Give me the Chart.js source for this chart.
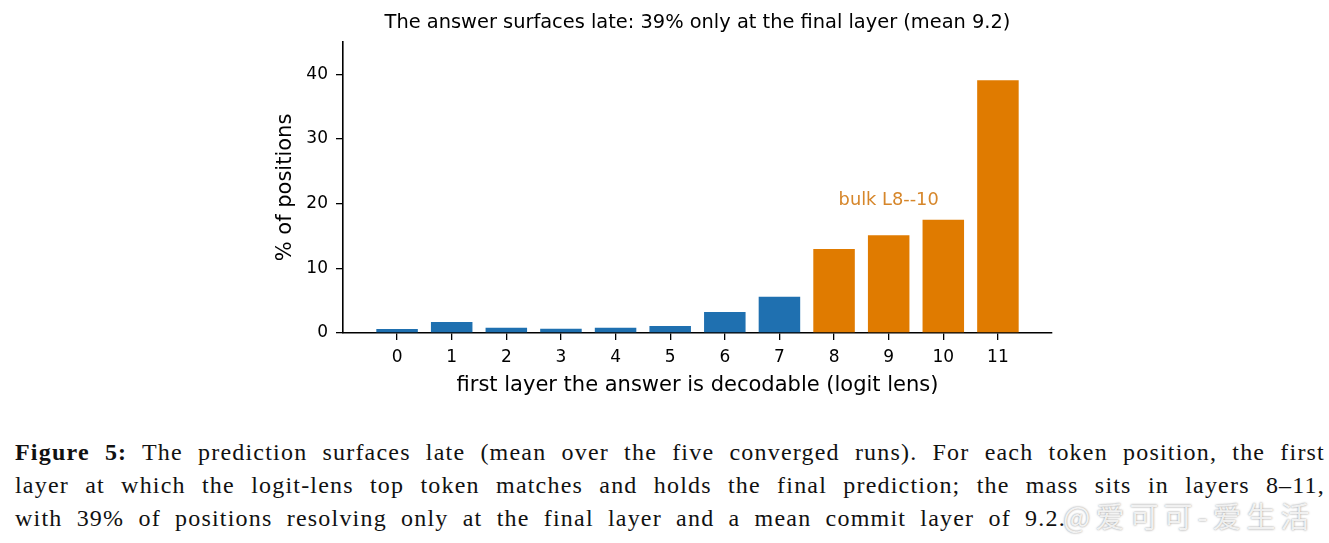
<!DOCTYPE html>
<html>
<head>
<meta charset="utf-8">
<script src="https://cdn.jsdelivr.net/npm/chart.js@4.4.1/dist/chart.umd.min.js"></script>
<style>
	html, body { margin: 0; padding: 0; background: #fff; }
	#wrap { position: relative; width: 1329px; height: 543px; overflow: hidden; }
	#chart-box { position: absolute; left: 0; top: 0; width: 1329px; height: 410px; }
	#caption {
		position: absolute; left: 15px; top: 436px; width: 1310px;
		font-family: "Liberation Serif", "DejaVu Serif", serif;
		font-size: 24px; line-height: 33px; color: #111;
		letter-spacing: 1.2px; word-spacing: 7px;
	}
	#caption .line { text-align: justify; text-align-last: justify; white-space: nowrap; }
	#caption .last { text-align: left; text-align-last: left; }
	#mark {
		position: absolute; left: 1063px; top: 494px;
		font-family: "Noto Sans CJK SC", sans-serif; font-size: 29px;
		letter-spacing: 5px;
		color: rgba(255, 255, 255, 0.85);
		text-shadow: 0 0 2px rgba(120, 120, 120, 0.9);
	}
</style>
</head>
<body>
<div id="wrap">
	<div id="chart-box"><canvas id="chart"></canvas></div>
	<div id="caption">
		<div class="line"><b>Figure 5:</b> The prediction surfaces late (mean over the five converged runs). For each token position, the first</div>
		<div class="line">layer at which the logit-lens top token matches and holds the final prediction; the mass sits in layers 8–11,</div>
		<div class="line last">with 39% of positions resolving only at the final layer and a mean commit layer of 9.2.</div>
	</div>
	<div id="mark">@爱可可-爱生活</div>
</div>
<script>
(() => {
	'use strict'

	// Data
	const layers = [0, 1, 2, 3, 4, 5, 6, 7, 8, 9, 10, 11];
	const percents = [0.6, 1.7, 0.8, 0.65, 0.8, 1.1, 3.25, 5.6, 13.0, 15.1, 17.5, 39.1];
	const yTicks = [0, 10, 20, 30, 40];
	const bulkStart = 8;

	const titleText = 'The answer surfaces late: 39% only at the final layer (mean 9.2)';
	const noteText = 'bulk L8--10';
	const noteX = 9;
	const noteY = 20.5;

	const blue = '#1f70b0';
	const orange = '#e07b00';
	const font = '"DejaVu Sans", sans-serif';

	// Title + annotation drawn on the canvas
	const textPlugin = {
		id: 'texts',
		afterDraw(chart) {
			const ctx = chart.ctx;
			const area = chart.chartArea;
			const sx = chart.scales.x;
			const sy = chart.scales.y;
			ctx.save();
			ctx.textAlign = 'center';
			ctx.textBaseline = 'middle';
			ctx.fillStyle = '#000';
			ctx.font = '19.4px ' + font;
			ctx.fillText(titleText, (area.left + area.right) / 2, 23);
			ctx.fillStyle = '#d6862a';
			ctx.font = '17.8px ' + font;
			ctx.fillText(noteText, sx.getPixelForValue(noteX), sy.getPixelForValue(noteY));
			ctx.restore();
		}
	};

	const config = {
		type: 'bar',
		data: {
			datasets: [{
				data: layers.map((l, i) => ({ x: l, y: percents[i] })),
				backgroundColor: layers.map(l => l >= bulkStart ? orange : blue),
				barPercentage: 0.76,
				categoryPercentage: 1,
			}]
		},
		plugins: [textPlugin],
		options: {
			responsive: true,
			maintainAspectRatio: false,
			animation: false,
			layout: {
				padding: { left: 273, right: 277, top: 42, bottom: 8 }
			},
			scales: {
				x: {
					type: 'linear',
					offset: false,
					min: -0.99,
					max: 11.99,
					afterBuildTicks: scale => {
						scale.ticks = layers.map(v => ({ value: v }));
					},
					afterFit: scale => { scale.height = 69; },
					ticks: {
						color: '#000',
						font: { family: font, size: 17 },
						padding: 7,
						callback: v => String(v),
					},
					grid: { offset: false, drawOnChartArea: false, tickLength: 7, color: '#000', lineWidth: 1.3 },
					border: { color: '#000', width: 1.6 },
					title: {
						display: true,
						text: 'first layer the answer is decodable (logit lens)',
						color: '#000',
						font: { family: font, size: 21 },
						padding: { top: 0 },
					}
				},
				y: {
					min: 0,
					max: 45,
					afterBuildTicks: scale => {
						scale.ticks = yTicks.map(v => ({ value: v }));
					},
					afterFit: scale => { scale.width = 70; },
					ticks: {
						color: '#000',
						font: { family: font, size: 17 },
						padding: 8,
					},
					grid: { drawOnChartArea: false, tickLength: 7, color: '#000', lineWidth: 1.3 },
					border: { color: '#000', width: 1.6 },
					title: {
						display: true,
						text: '% of positions',
						color: '#000',
						font: { family: font, size: 21 },
						padding: 0,
					}
				}
			},
			plugins: {
				legend: { display: false },
				title: { display: false },
				tooltip: { enabled: false }
			}
		}
	};

	new Chart(document.getElementById('chart'), config);
})()
</script>
</body>
</html>
